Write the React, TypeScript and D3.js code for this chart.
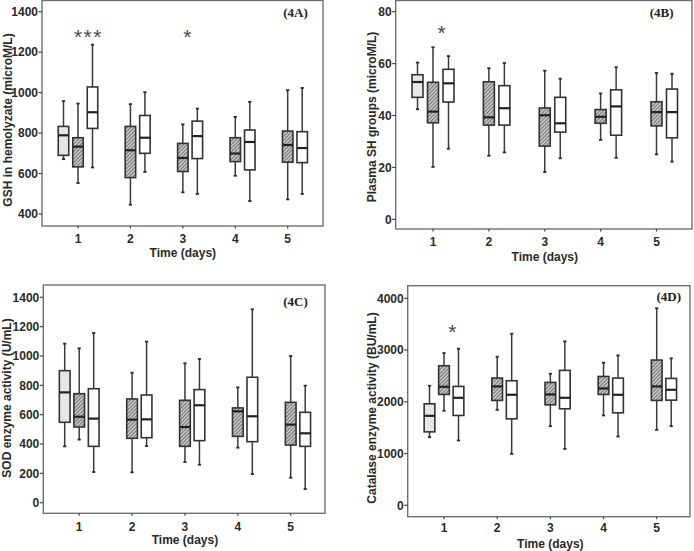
import React from "react";
import * as d3 from "d3";

// ---------- DATA ----------
const days = ["1", "2", "3", "4", "5"];

// each box: [whiskerLow, q1, median, q3, whiskerHigh]
const gshControl = [[671, 690, 789, 833, 958]];
const gshHatched = [
  [553, 633, 733, 777, 946],
  [446, 580, 715, 833, 943],
  [507, 610, 677, 749, 843],
  [589, 659, 699, 777, 880],
  [472, 656, 741, 810, 1012],
];
const gshWhite = [
  [630, 823, 903, 1028, 1237],
  [608, 700, 777, 887, 1002],
  [499, 674, 785, 859, 921],
  [464, 618, 756, 815, 954],
  [499, 654, 726, 807, 1023],
];

const shControl = [[42.4, 47.0, 52.9, 55.7, 60.4]];
const shHatched = [
  [20.2, 37.2, 41.5, 52.8, 66.3],
  [24.5, 36.3, 39.3, 53.0, 58.2],
  [18.2, 28.2, 40.1, 42.9, 57.3],
  [30.6, 37.0, 39.5, 42.3, 48.5],
  [25.0, 36.0, 41.3, 45.3, 56.4],
];
const shWhite = [
  [27.2, 45.2, 52.4, 57.8, 62.9],
  [25.8, 36.3, 42.8, 51.5, 60.2],
  [23.5, 33.6, 37.0, 47.0, 54.2],
  [23.7, 32.4, 43.5, 49.9, 58.6],
  [22.2, 31.4, 41.3, 50.2, 56.1],
];

const sodControl = [[384, 548, 752, 900, 1084]];
const sodHatched = [
  [430, 516, 586, 743, 1052],
  [207, 439, 566, 707, 886],
  [277, 384, 516, 698, 950],
  [375, 452, 623, 646, 786],
  [170, 393, 532, 684, 1000],
];
const sodWhite = [
  [209, 384, 573, 777, 1157],
  [386, 443, 568, 734, 1098],
  [259, 423, 664, 771, 980],
  [195, 416, 589, 855, 1318],
  [93, 384, 473, 616, 798],
];

const catControl = [[1316, 1419, 1729, 1961, 2310]];
const catHatched = [
  [1826, 2142, 2290, 2697, 2942],
  [1845, 2026, 2297, 2458, 2871],
  [1529, 1942, 2142, 2374, 2542],
  [1736, 2142, 2258, 2490, 2755],
  [1458, 2026, 2297, 2807, 3807],
];
const catWhite = [
  [1252, 1736, 2077, 2297, 3026],
  [994, 1671, 2136, 2407, 3316],
  [1090, 1865, 2077, 2607, 3168],
  [1329, 1787, 2136, 2458, 2897],
  [1529, 2032, 2232, 2452, 2839],
];

const gshTicks = [400, 600, 800, 1000, 1200, 1400];
const shTicks = [0, 20, 40, 60, 80];
const sodTicks = [0, 200, 400, 600, 800, 1000, 1200, 1400];
const catTicks = [0, 1000, 2000, 3000, 4000];

// significance marks: [dayIndex, text, value at centre]
const gshStars: [number, string, number][] = [
  [0, "***", 1295],
  [2, "*", 1295],
];
const shStars: [number, string, number][] = [[0, "*", 73.6]];
const sodStars: [number, string, number][] = [];
const catStars: [number, string, number][] = [[0, "*", 3440]];

// ---------- LAYOUT ----------
type Panel = {
  label: string;
  yTitle: string;
  control: number[][];
  hatched: number[][];
  white: number[][];
  ticks: number[];
  stars: [number, string, number][];
  frame: [number, number, number, number];
  yDomain: [number, number];
  yRange: [number, number];
  x1: number;
  x5: number;
  step: number;
  bw: number;
  starOff: number[];
  yTitleX: number;
  yTitleY: number;
  tickLabelY: number;
  xTitleY: number;
  labelX: number;
  labelY: number;
};

const panels: Panel[] = [
  {
    label: "(4A)", yTitle: "GSH in hemolyzate (microM/L)",
    control: gshControl, hatched: gshHatched, white: gshWhite, ticks: gshTicks, stars: gshStars,
    frame: [42, 0.5, 323, 226], yDomain: [400, 1400], yRange: [214, 11.7],
    x1: 78, x5: 287.7, step: 14.5, bw: 10.5, starOff: [0.72, 0.31],
    yTitleX: 7.5, yTitleY: 120, tickLabelY: 238.5, xTitleY: 252.5, labelX: 295.5, labelY: 16.5,
  },
  {
    label: "(4B)", yTitle: "Plasma SH groups (microM/L)",
    control: shControl, hatched: shHatched, white: shWhite, ticks: shTicks, stars: shStars,
    frame: [395.7, 0.5, 692, 229], yDomain: [0, 80], yRange: [219.3, 11.7],
    x1: 433, x5: 656.5, step: 15.5, bw: 11, starOff: [0.56],
    yTitleX: 372, yTitleY: 117, tickLabelY: 241.7, xTitleY: 256.7, labelX: 661.7, labelY: 16.5,
  },
  {
    label: "(4C)", yTitle: "SOD enzyme activity (U/mL)",
    control: sodControl, hatched: sodHatched, white: sodWhite, ticks: sodTicks, stars: sodStars,
    frame: [43.3, 285, 325, 513.3], yDomain: [0, 1400], yRange: [502.7, 297.3],
    x1: 79.2, x5: 290.7, step: 14.5, bw: 10.7, starOff: [],
    yTitleX: 7, yTitleY: 398, tickLabelY: 526.7, xTitleY: 539.5, labelX: 295.5, labelY: 306,
  },
  {
    label: "(4D)", yTitle: "Catalase enzyme activity (BU/mL)",
    control: catControl, hatched: catHatched, white: catWhite, ticks: catTicks, stars: catStars,
    frame: [407.7, 285.7, 690, 516.7], yDomain: [0, 4000], yRange: [505.3, 298.3],
    x1: 444, x5: 656.7, step: 14.5, bw: 10.7, starOff: [0.57],
    yTitleX: 372, yTitleY: 408, tickLabelY: 527.7, xTitleY: 544, labelX: 668.8, labelY: 300.5,
  },
];

const SANS = "'Liberation Sans', Arial, sans-serif";
const SERIF = "'Liberation Serif', 'Times New Roman', serif";

function BoxMark({ cx, vals, y, bw, fill }: { cx: number; vals: number[]; y: d3.ScaleLinear<number, number>; bw: number; fill: string }) {
  const [lo, q1, med, q3, hi] = vals;
  const x0 = cx - bw / 2;
  return (
    <g>
      <line x1={cx} x2={cx} y1={y(hi)} y2={y(q3)} stroke="#3a3a3a" strokeWidth={1.5} />
      <line x1={cx} x2={cx} y1={y(q1)} y2={y(lo)} stroke="#3a3a3a" strokeWidth={1.5} />
      <line x1={cx - 1.6} x2={cx + 1.6} y1={y(hi)} y2={y(hi)} stroke="#2a2a2a" strokeWidth={1.8} />
      <line x1={cx - 1.6} x2={cx + 1.6} y1={y(lo)} y2={y(lo)} stroke="#2a2a2a" strokeWidth={1.8} />
      <rect x={x0} y={y(q3)} width={bw} height={y(q1) - y(q3)} fill={fill} stroke="#333" strokeWidth={1.6} />
      <line x1={x0} x2={x0 + bw} y1={y(med)} y2={y(med)} stroke="#222" strokeWidth={2.2} />
    </g>
  );
}

function PanelView({ p }: { p: Panel }) {
  const [fx0, fy0, fx1, fy1] = p.frame;
  const y = d3.scaleLinear().domain(p.yDomain).range(p.yRange);
  const x = d3.scalePoint<string>().domain(days).range([p.x1, p.x5]);
  const midX = x("3") as number;
  return (
    <g>
      <rect x={fx0} y={fy0} width={fx1 - fx0} height={fy1 - fy0} fill="#fff" stroke="#707070" strokeWidth={1.4} />
      {p.ticks.map((t) => (
        <g key={t}>
          <line x1={fx0 - 3.5} x2={fx0} y1={y(t)} y2={y(t)} stroke="#444" strokeWidth={1.2} />
          <text x={fx0 - 4} y={y(t)} dy="0.36em" textAnchor="end" fontFamily={SANS} fontWeight="bold" fontSize={12} fill="#2a2a2a">
            {t}
          </text>
        </g>
      ))}
      {days.map((d) => (
        <g key={d}>
          <line x1={x(d)} x2={x(d)} y1={fy1} y2={fy1 + 2.5} stroke="#444" strokeWidth={1.2} />
          <text x={x(d)} y={p.tickLabelY} dy="0.36em" textAnchor="middle" fontFamily={SANS} fontWeight="bold" fontSize={12} fill="#2a2a2a">
            {d}
          </text>
        </g>
      ))}
      <text x={midX} y={p.xTitleY} dy="0.36em" textAnchor="middle" fontFamily={SANS} fontWeight="bold" fontSize={12} fill="#2a2a2a">
        Time (days)
      </text>
      <text
        transform={`translate(${p.yTitleX},${p.yTitleY}) rotate(-90)`}
        dy="0.36em"
        textAnchor="middle"
        fontFamily={SANS}
        fontWeight="bold"
        fontSize={12}
        fill="#2a2a2a"
      >
        {p.yTitle}
      </text>
      <text x={p.labelX} y={p.labelY} textAnchor="middle" fontFamily={SERIF} fontWeight="bold" fontSize={13} fill="#222">
        {p.label}
      </text>
      {p.control.map((v, i) => (
        <BoxMark key={"c" + i} cx={(x(days[i]) as number) - p.step} vals={v} y={y} bw={p.bw} fill="#e6e6e6" />
      ))}
      {p.hatched.map((v, i) => (
        <BoxMark key={"h" + i} cx={x(days[i]) as number} vals={v} y={y} bw={p.bw} fill="url(#hatch)" />
      ))}
      {p.white.map((v, i) => (
        <BoxMark key={"w" + i} cx={(x(days[i]) as number) + p.step} vals={v} y={y} bw={p.bw} fill="#fff" />
      ))}
      {p.stars.map(([di, txt, v], i) => (
        <text
          key={"s" + i}
          x={(x(days[di]) as number) + p.starOff[i] * p.step}
          y={y(v) + 11.5}
          textAnchor="middle"
          fontFamily={SANS}
          fontSize={21}
          letterSpacing={txt.length > 1 ? 1.5 : 0}
          fill="#4a4a4a"
        >
          {txt}
        </text>
      ))}
    </g>
  );
}

export default function App() {
  return (
    <div style={{ position: "absolute", left: 0, top: 0 }}>
      <svg width={694} height={551} style={{ display: "block", background: "#fff" }}>
        <defs>
          <pattern id="hatch" patternUnits="userSpaceOnUse" width={2.6} height={2.6} patternTransform="rotate(45)">
            <rect width={2.6} height={2.6} fill="#d4d4d4" />
            <line x1={0.6} y1={0} x2={0.6} y2={2.6} stroke="#6a6a6a" strokeWidth={1.1} />
          </pattern>
        </defs>
        {panels.map((p) => (
          <PanelView key={p.label} p={p} />
        ))}
      </svg>
    </div>
  );
}
